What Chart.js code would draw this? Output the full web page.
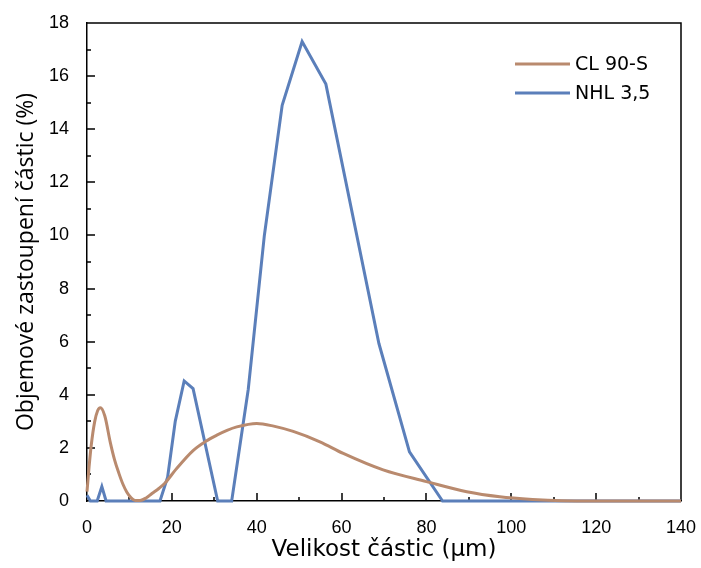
<!DOCTYPE html>
<html><head><meta charset="utf-8">
<script src="https://cdn.jsdelivr.net/npm/chart.js@4.4.1/dist/chart.umd.min.js"></script>
<style>html,body{margin:0;padding:0;background:#fff;}#wrap{width:701px;height:568px;}</style>
</head><body><div id="wrap"><canvas id="c" width="701" height="568"></canvas></div>
<script>
const seriesNames = ['CL 90-S', 'NHL 3,5'];
const xTitle = 'Velikost částic (µm)';
const yTitle = 'Objemové zastoupení částic (%)';
const clSizes  = [0, 0.5, 1, 1.8, 2.5, 3.15, 4.2, 5.5, 6.5, 7.5, 8.5, 9.4, 10.4, 11.4, 12.5, 14, 15.3, 17, 18.4, 21, 25, 28, 30.6, 33, 35.3, 40, 44, 48.6, 54.9, 60.4, 69.8, 80, 89.5, 97.3, 105, 112, 120, 140];
const clValues = [0.35, 1.3, 2.1, 2.98, 3.4, 3.51, 3.2, 2.2, 1.55, 1.05, 0.62, 0.33, 0.12, 0.02, 0.02, 0.12, 0.28, 0.48, 0.68, 1.2, 1.9, 2.25, 2.48, 2.66, 2.79, 2.92, 2.82, 2.62, 2.23, 1.79, 1.17, 0.73, 0.35, 0.16, 0.06, 0.01, 0, 0];
const nhlSizes  = [0, 0.8, 2.4, 3.5, 4.5, 17.2, 19, 20.8, 22.9, 25.0, 30.8, 34.1, 38, 41.8, 46, 50.7, 56.3, 68.8, 76, 83.8, 140];
const nhlValues = [0.22, 0, 0, 0.54, 0, 0, 0.9, 3.0, 4.52, 4.23, 0, 0, 4.2, 10.0, 14.9, 17.3, 15.7, 5.93, 1.85, 0, 0];
const xTickValues = [0, 20, 40, 60, 80, 100, 120, 140];
const yTickValues = [0, 2, 4, 6, 8, 10, 12, 14, 16, 18];
const colors = ['#B98A6E', '#5B7FBA'];

const toPts = (xs, ys) => xs.map((x, i) => ({x, y: ys[i]}));

const frameTicks = {
  id: 'frameTicks',
  beforeDatasetsDraw(chart) {
    const {ctx, chartArea: a, scales: {x, y}} = chart;
    ctx.save();
    ctx.strokeStyle = '#000';
    ctx.lineWidth = 1.5;
    ctx.beginPath();
    ctx.moveTo(a.left, a.top); ctx.lineTo(a.right, a.top); ctx.lineTo(a.right, a.bottom);
    for (let v = 10; v < 140; v += 10) {
      const px = Math.round(x.getPixelForValue(v));
      const len = v % 20 === 0 ? 8 : 4;
      ctx.moveTo(px, a.bottom); ctx.lineTo(px, a.bottom - len);
    }
    for (let v = 1; v < 18; v += 1) {
      const py = Math.round(y.getPixelForValue(v));
      const len = v % 2 === 0 ? 8 : 4;
      ctx.moveTo(a.left, py); ctx.lineTo(a.left + len, py);
    }
    ctx.stroke();
    ctx.restore();
  }
};

const legendPlugin = {
  id: 'customLegend',
  afterDraw(chart) {
    const {ctx, chartArea: a} = chart;
    ctx.save();
    ctx.font = '19px "DejaVu Sans"';
    ctx.textBaseline = 'middle';
    ctx.fillStyle = '#000';
    chart.data.datasets.forEach((ds, i) => {
      const yy = a.top + 41 + i * 29;
      ctx.strokeStyle = ds.borderColor;
      ctx.lineWidth = 3;
      ctx.beginPath();
      ctx.moveTo(a.right - 166, yy); ctx.lineTo(a.right - 111, yy);
      ctx.stroke();
      ctx.fillText(ds.label, a.right - 106, yy + 1);
    });
    ctx.restore();
  }
};

new Chart(document.getElementById('c'), {
  type: 'line',
  data: {
    datasets: [
      {label: seriesNames[0], data: toPts(clSizes, clValues), borderColor: colors[0], backgroundColor: colors[0],
       borderWidth: 3, pointRadius: 0, cubicInterpolationMode: 'monotone', clip: 4},
      {label: seriesNames[1], data: toPts(nhlSizes, nhlValues), borderColor: colors[1], backgroundColor: colors[1],
       borderWidth: 3, pointRadius: 0, tension: 0, clip: 4}
    ]
  },
  options: {
    responsive: false,
    animation: false,
    layout: {padding: {left: 0, top: 23, right: 20, bottom: 0}},
    plugins: {legend: {display: false}, tooltip: {enabled: false}},
    scales: {
      x: {
        type: 'linear', min: 0, max: 140,
        afterBuildTicks: s => { s.ticks = xTickValues.map(v => ({value: v})); },
        afterFit: s => { s.height = 67; s.paddingRight = 0; s.paddingLeft = 0; },
        grid: {display: false},
        border: {display: true, color: '#000', width: 1.5},
        ticks: {color: '#000', font: {family: '"Liberation Sans", Arial', size: 18}, padding: 8, maxRotation: 0},
        title: {display: true, text: xTitle, color: '#000', font: {family: '"DejaVu Sans"', size: 23}, padding: {top: 0, bottom: 4}}
      },
      y: {
        type: 'linear', min: 0, max: 18,
        afterBuildTicks: s => { s.ticks = yTickValues.map(v => ({value: v})); },
        afterFit: s => { s.width = 87; },
        grid: {display: false},
        border: {display: true, color: '#000', width: 1.5},
        ticks: {color: '#000', font: {family: '"Liberation Sans", Arial', size: 18}, padding: 10},
        title: {display: true, text: yTitle, color: '#000', font: {family: '"Open Sans"', size: 23}, padding: {top: 13, bottom: 0}}
      }
    }
  },
  plugins: [frameTicks, legendPlugin]
});
</script></body></html>
